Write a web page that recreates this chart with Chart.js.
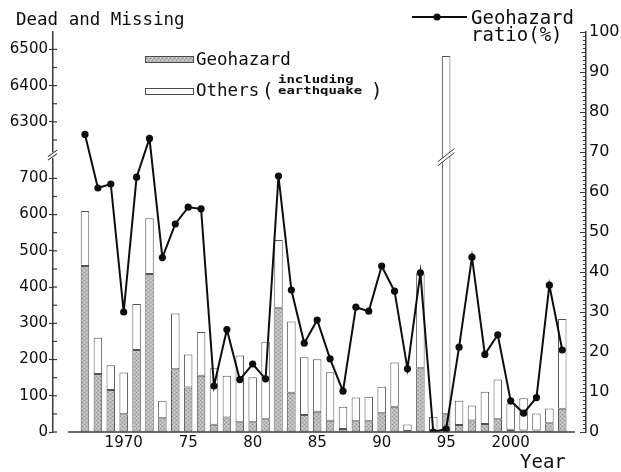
<!DOCTYPE html>
<html>
<head>
<meta charset="utf-8">
<script src="https://cdn.jsdelivr.net/npm/chart.js@4.4.1/dist/chart.umd.min.js"></script>
<style>
  html, body { margin: 0; padding: 0; background: #fff; }
  #c { display: block; }
</style>
</head>
<body>
<canvas id="c" width="621" height="472"></canvas>
<script>
// Annual dead and missing in Japan, split into geohazard and other disasters
const years = [1967, 1968, 1969, 1970, 1971, 1972, 1973, 1974, 1975, 1976,
               1977, 1978, 1979, 1980, 1981, 1982, 1983, 1984, 1985, 1986,
               1987, 1988, 1989, 1990, 1991, 1992, 1993, 1994, 1995, 1996,
               1997, 1998, 1999, 2000, 2001, 2002, 2003, 2004];
const geohazard = [458, 160, 116, 49, 226, 436, 38, 173, 123, 155,
                   20, 40, 27, 27, 35, 343, 108, 47, 56, 31,
                   8, 30, 30, 52, 70, 3, 176, 0, 49, 19,
                   32, 22, 35, 6, 4, 4, 24, 64];
const others = [152, 100, 68, 115, 127, 154, 48, 154, 91, 121,
                156, 115, 184, 124, 214, 187, 197, 159, 145, 134,
                62, 65, 67, 73, 122, 18, 262, 42, 6433, 67,
                41, 89, 110, 73, 89, 47, 41, 248];
// Geohazard share of the yearly total (%)
const ratio = [74.4, 61.0, 62.0, 30.0, 63.7, 73.4, 43.6, 52.0, 56.2, 55.8,
               11.5, 25.6, 13.1, 17.0, 13.3, 64.0, 35.5, 22.2, 28.0, 18.3,
               10.2, 31.2, 30.2, 41.5, 35.2, 15.8, 39.8, 0.0, 0.75, 21.2,
               43.7, 19.4, 24.3, 7.8, 4.7, 8.6, 36.7, 20.5];

const leftTicks = [0, 100, 200, 300, 400, 500, 600, 700, 6300, 6400, 6500];
const rightTicks = [0, 10, 20, 30, 40, 50, 60, 70, 80, 90, 100];
const xTickYears = [1970, 1975, 1980, 1985, 1990, 1995, 2000];
const xTickLabels = ['1970', '75', '80', '85', '90', '95', '2000'];

// The left axis skips the empty range between these two values
const BREAK_FROM = 760;
const BREAK_TO = 6204;

class BrokenLinearScale extends Chart.LinearScale {
  toAxis(v) {
    if (v <= BREAK_FROM) return v;
    if (v >= BREAK_TO) return v - (BREAK_TO - BREAK_FROM);
    return BREAK_FROM;
  }
  getPixelForValue(v) {
    if (v === null || v === undefined || isNaN(v)) return NaN;
    const a0 = this.toAxis(this.min), a1 = this.toAxis(this.max);
    return this.getPixelForDecimal((this.toAxis(v) - a0) / (a1 - a0));
  }
  getValueForPixel(p) {
    const a0 = this.toAxis(this.min), a1 = this.toAxis(this.max);
    const a = a0 + this.getDecimalForPixel(p) * (a1 - a0);
    return a <= BREAK_FROM ? a : a + (BREAK_TO - BREAK_FROM);
  }
}
BrokenLinearScale.id = 'brokenLinear';
BrokenLinearScale.defaults = Chart.LinearScale.defaults;
Chart.register(BrokenLinearScale);

const canvas = document.getElementById('c');
const ctx0 = canvas.getContext('2d');

function stipple() {
  const c = document.createElement('canvas');
  c.width = 4; c.height = 4;
  const g = c.getContext('2d');
  g.fillStyle = '#bababa'; g.fillRect(0, 0, 4, 4);
  g.fillStyle = '#979797'; g.fillRect(0, 0, 1, 1); g.fillRect(2, 2, 1, 1);
  g.fillStyle = '#d4d4d4'; g.fillRect(2, 0, 1, 1); g.fillRect(0, 2, 1, 1);
  return ctx0.createPattern(c, 'repeat');
}
const geoFill = stipple();

const INK = '#0d0d0d';
const AXIS = '#3a3a3a';
const MONO = '"DejaVu Sans Mono", "Liberation Mono", monospace';
const SANS = '"DejaVu Sans", Verdana, sans-serif';

function line(ctx, x1, y1, x2, y2) {
  ctx.beginPath(); ctx.moveTo(x1, y1); ctx.lineTo(x2, y2); ctx.stroke();
}

// Axis details, break marks, legends and captions
const decorations = {
  id: 'decorations',
  afterDraw(chart) {
    const ctx = chart.ctx;
    const ys = chart.scales.y, yr = chart.scales.y1;
    const area = chart.chartArea;
    ctx.save();
    ctx.strokeStyle = AXIS;
    ctx.lineWidth = 1.2;

    // inner ticks on the left axis, every 50
    const lx = area.left;
    for (let v = 0; v <= 700; v += 50) line(ctx, lx, ys.getPixelForValue(v), lx + 4, ys.getPixelForValue(v));
    for (let v = 6250; v <= 6500; v += 50) line(ctx, lx, ys.getPixelForValue(v), lx + 4, ys.getPixelForValue(v));

    // ruler ticks on the right axis
    const rx = area.right;
    ctx.lineWidth = 1;
    for (let v = 0; v <= 100; v += 1) {
      const len = v % 10 === 0 ? 6 : (v % 5 === 0 ? 4.5 : 3);
      const py = Math.round(yr.getPixelForValue(v)) + 0.5;
      line(ctx, rx - len, py, rx, py);
    }

    // baseline under the bars
    ctx.lineWidth = 1.5;
    line(ctx, 68, area.bottom, 575, area.bottom);

    // break on the left axis
    const by = ys.getPixelForValue(BREAK_FROM) - 1.5;
    ctx.fillStyle = '#fff';
    ctx.fillRect(lx - 3, by - 3, 6, 6);
    ctx.lineWidth = 1.2;
    line(ctx, lx - 5, by + 1.5, lx + 4, by - 5);
    line(ctx, lx - 5, by + 5, lx + 4, by - 1.5);

    // break across the 1995 bar
    const idx = years.indexOf(1995);
    const bar = chart.getDatasetMeta(2).data[idx];
    if (bar) {
      const half = bar.width / 2 + 4;
      const x1 = bar.x - half, x2 = bar.x + half;
      const drop = 6.5, gap = 4;
      ctx.fillStyle = '#fff';
      ctx.beginPath();
      ctx.moveTo(x1, by + drop); ctx.lineTo(x2, by - drop);
      ctx.lineTo(x2, by - drop + gap); ctx.lineTo(x1, by + drop + gap);
      ctx.closePath(); ctx.fill();
      ctx.lineWidth = 1;
      line(ctx, x1, by + drop, x2, by - drop);
      line(ctx, x1, by + drop + gap, x2, by - drop + gap);
    }

    // left axis caption
    ctx.fillStyle = INK;
    ctx.textBaseline = 'alphabetic';
    ctx.textAlign = 'left';
    ctx.font = '17.5px ' + MONO;
    ctx.fillText('Dead and Missing', 16, 25);

    // bar legend
    ctx.strokeStyle = '#4a4a4a';
    ctx.lineWidth = 1;
    ctx.fillStyle = geoFill;
    ctx.fillRect(145.5, 56.5, 48, 6);
    ctx.strokeRect(145.5, 56.5, 48, 6);
    ctx.fillStyle = '#fff';
    ctx.fillRect(145.5, 88.5, 48, 6);
    ctx.strokeRect(145.5, 88.5, 48, 6);

    ctx.fillStyle = INK;
    ctx.font = '17.5px ' + MONO;
    ctx.fillText('Geohazard', 196, 65);
    ctx.fillText('Others', 196, 96);
    ctx.font = '19px ' + MONO;
    ctx.fillText('(', 262, 97);
    ctx.fillText(')', 371, 97);
    ctx.font = 'bold 10.5px ' + MONO;
    ctx.save(); ctx.translate(278, 83); ctx.scale(1.33, 1); ctx.fillText('including', 0, 0); ctx.restore();
    ctx.save(); ctx.translate(278, 94); ctx.scale(1.33, 1); ctx.fillText('earthquake', 0, 0); ctx.restore();

    // ratio legend
    ctx.strokeStyle = INK;
    ctx.lineWidth = 2;
    line(ctx, 412, 17, 467, 17);
    ctx.beginPath(); ctx.arc(437, 17, 3.6, 0, Math.PI * 2); ctx.fillStyle = INK; ctx.fill();
    ctx.font = '19px ' + MONO;
    ctx.fillText('Geohazard', 471, 24);
    ctx.fillText('ratio(%)', 471, 41);

    // x axis caption
    ctx.fillText('Year', 520, 468);
    ctx.restore();
  }
};

new Chart(canvas, {
  type: 'bar',
  data: {
    datasets: [
      {
        type: 'line',
        label: 'Geohazard ratio (%)',
        data: years.map((y, i) => ({ x: y, y: ratio[i] })),
        xAxisID: 'x',
        yAxisID: 'y1',
        borderColor: INK,
        borderWidth: 2,
        pointRadius: 3.6,
        pointBackgroundColor: INK,
        pointBorderWidth: 0,
        tension: 0,
        order: 0
      },
      {
        label: 'Geohazard',
        data: years.map((y, i) => ({ x: y, y: geohazard[i] })),
        xAxisID: 'x',
        yAxisID: 'y',
        stack: 'deaths',
        backgroundColor: geoFill,
        borderColor: '#555555',
        borderWidth: 1,
        borderSkipped: false,
        categoryPercentage: 1,
        barPercentage: 0.66,
        order: 1
      },
      {
        label: 'Others (including earthquake)',
        data: years.map((y, i) => ({ x: y, y: others[i] })),
        xAxisID: 'x',
        yAxisID: 'y',
        stack: 'deaths',
        backgroundColor: '#ffffff',
        borderColor: '#555555',
        borderWidth: 1,
        borderSkipped: false,
        categoryPercentage: 1,
        barPercentage: 0.66,
        order: 1
      }
    ]
  },
  options: {
    responsive: false,
    animation: false,
    devicePixelRatio: 1,
    layout: { padding: { top: 32, left: 0, right: 0, bottom: 0 } },
    plugins: { legend: { display: false }, tooltip: { enabled: false }, title: { display: false } },
    scales: {
      x: {
        type: 'linear',
        min: 1964.52,
        max: 2005.84,
        offset: false,
        stacked: true,
        grid: { display: false, drawTicks: false, offset: false },
        border: { display: false },
        afterBuildTicks: s => { s.ticks = xTickYears.map(v => ({ value: v })); },
        afterFit: s => { s.height = 40; },
        ticks: {
          autoSkip: false,
          maxRotation: 0,
          padding: 2,
          color: INK,
          font: { family: SANS, size: 15 },
          callback: v => xTickLabels[xTickYears.indexOf(v)]
        }
      },
      y: {
        type: 'brokenLinear',
        position: 'left',
        min: 0,
        max: 6548,
        stacked: true,
        grid: { display: true, drawOnChartArea: false, drawTicks: true, tickLength: 4, tickColor: AXIS, tickWidth: 1.2 },
        border: { display: true, color: AXIS, width: 1.5 },
        afterBuildTicks: s => { s.ticks = leftTicks.map(v => ({ value: v })); },
        afterFit: s => { s.width = 53; },
        ticks: {
          autoSkip: false,
          padding: 1,
          color: INK,
          font: { family: SANS, size: 15 },
          callback: v => String(v)
        }
      },
      y1: {
        type: 'linear',
        position: 'right',
        min: 0,
        max: 100,
        grid: { display: false, drawTicks: false },
        border: { display: true, color: AXIS, width: 1.5 },
        afterBuildTicks: s => { s.ticks = rightTicks.map(v => ({ value: v })); },
        afterFit: s => { s.width = 35; },
        ticks: {
          autoSkip: false,
          padding: 3,
          color: INK,
          font: { family: SANS, size: 16 },
          callback: v => String(v)
        }
      }
    }
  },
  plugins: [decorations]
});
</script>
</body>
</html>
